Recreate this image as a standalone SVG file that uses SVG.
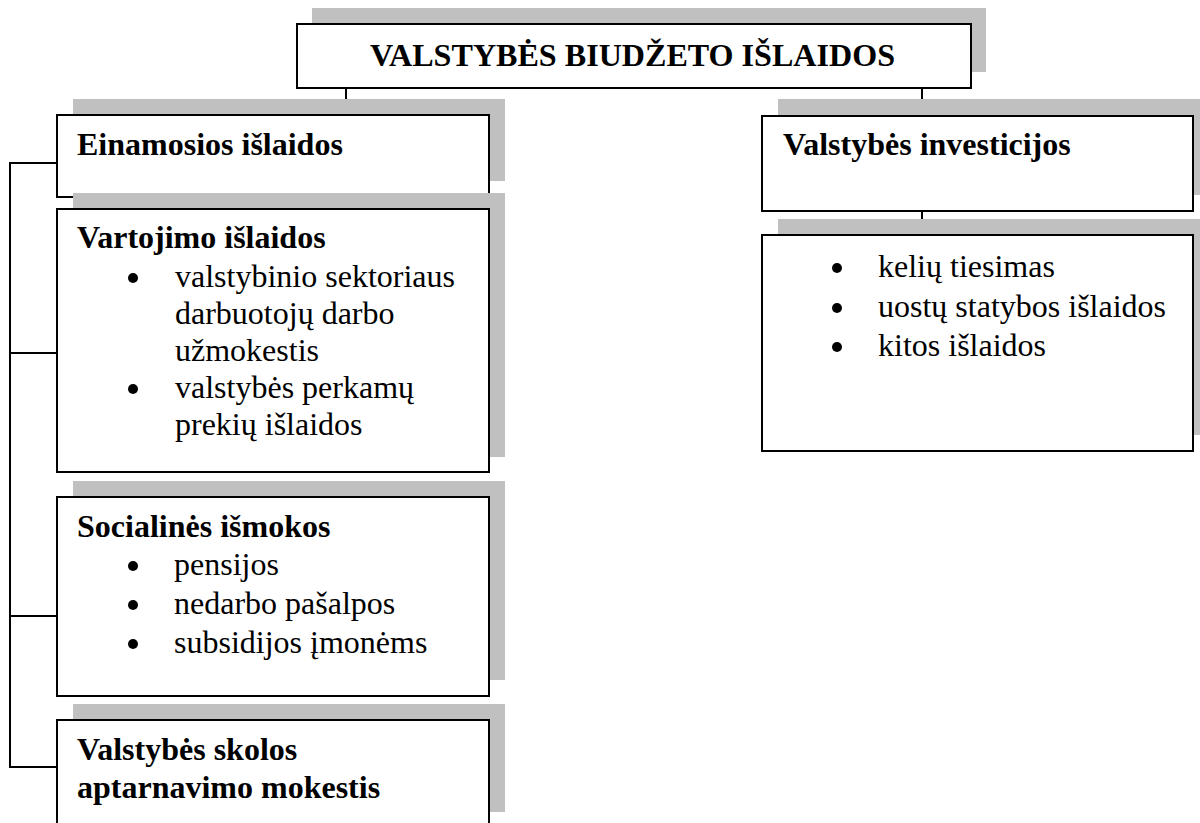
<svg xmlns="http://www.w3.org/2000/svg" width="1200" height="823" viewBox="0 0 1200 823">
<style>
.sh{fill:#c0c0c0;stroke:none}
.bx{fill:#fff;stroke:#000;stroke-width:2}
.ln{stroke:#000;stroke-width:2;fill:none}
.t{font-family:"Liberation Serif","Times New Roman",serif;font-size:32px;fill:#000}
.b{font-weight:bold}
.bl{fill:#000}
</style>
<rect width="1200" height="823" fill="#fff"/>
<g id="connectors">
<line class="ln" x1="346" y1="88" x2="346" y2="115"/>
<line class="ln" x1="922" y1="88" x2="922" y2="116"/>
<line class="ln" x1="922" y1="211" x2="922" y2="235"/>
<polyline class="ln" points="57,163 10,163 10,767 57,767"/>
<line class="ln" x1="10" y1="353" x2="57" y2="353"/>
<line class="ln" x1="10" y1="616" x2="57" y2="616"/>
</g>
<g id="title">
<rect class="sh" x="312" y="8" width="674" height="64"/>
<rect class="bx" x="297" y="24" width="674" height="64"/>
<text class="t b" x="370" y="66" textLength="525" lengthAdjust="spacingAndGlyphs">VALSTYBĖS BIUDŽETO IŠLAIDOS</text>
</g>
<g id="einamosios">
<rect class="sh" x="73" y="99" width="432" height="82"/>
<rect class="bx" x="57" y="115" width="432" height="82"/>
<text class="t b" x="77" y="155">Einamosios išlaidos</text>
</g>
<g id="vartojimo">
<rect class="sh" x="73" y="193" width="432" height="264"/>
<rect class="bx" x="57" y="209" width="432" height="263"/>
<text class="t b" x="77" y="248">Vartojimo išlaidos</text>
<circle class="bl" cx="133" cy="278" r="5"/>
<text class="t" x="175" y="287">valstybinio sektoriaus</text>
<text class="t" x="175" y="324">darbuotojų darbo</text>
<text class="t" x="175" y="361">užmokestis</text>
<circle class="bl" cx="133" cy="389" r="5"/>
<text class="t" x="175" y="398">valstybės perkamų</text>
<text class="t" x="175" y="435">prekių išlaidos</text>
</g>
<g id="socialines">
<rect class="sh" x="73" y="481" width="432" height="199"/>
<rect class="bx" x="57" y="497" width="432" height="199"/>
<text class="t b" x="77" y="537">Socialinės išmokos</text>
<circle class="bl" cx="133" cy="566" r="5"/>
<text class="t" x="174" y="575">pensijos</text>
<circle class="bl" cx="133" cy="605" r="5"/>
<text class="t" x="174" y="614">nedarbo pašalpos</text>
<circle class="bl" cx="133" cy="644" r="5"/>
<text class="t" x="174" y="653">subsidijos įmonėms</text>
</g>
<g id="skolos">
<rect class="sh" x="73" y="704" width="432" height="108"/>
<rect class="bx" x="57" y="720" width="432" height="115"/>
<text class="t b" x="77" y="760">Valstybės skolos</text>
<text class="t b" x="77" y="798">aptarnavimo mokestis</text>
</g>
<g id="investicijos">
<rect class="sh" x="778" y="99" width="431" height="96"/>
<rect class="bx" x="762" y="116" width="431" height="95"/>
<text class="t b" x="783" y="155">Valstybės investicijos</text>
</g>
<g id="investicijos-list">
<rect class="sh" x="778" y="219" width="431" height="216"/>
<rect class="bx" x="762" y="235" width="431" height="216"/>
<circle class="bl" cx="837" cy="268" r="5"/>
<text class="t" x="878" y="277">kelių tiesimas</text>
<circle class="bl" cx="837" cy="308" r="5"/>
<text class="t" x="878" y="317">uostų statybos išlaidos</text>
<circle class="bl" cx="837" cy="347" r="5"/>
<text class="t" x="878" y="356">kitos išlaidos</text>
</g>
</svg>
